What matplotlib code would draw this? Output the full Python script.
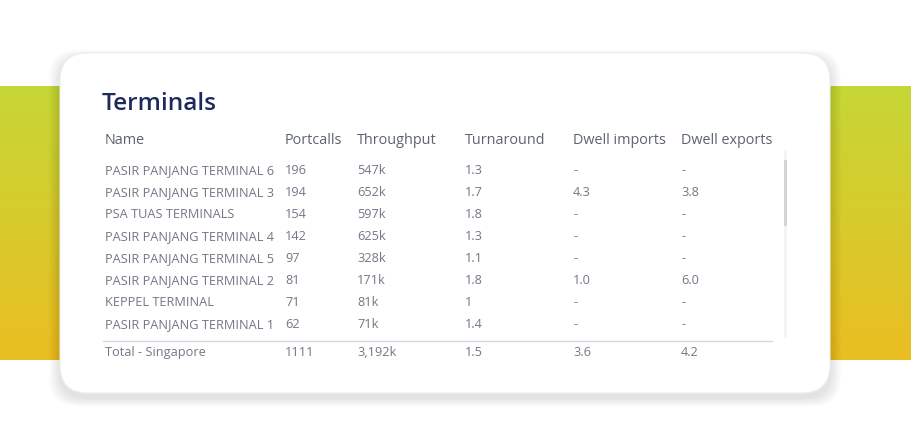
import matplotlib
matplotlib.use("Agg")
import matplotlib.pyplot as plt
import numpy as np
from matplotlib.patches import FancyBboxPatch

title = "Terminals"
columns = ["Name", "Portcalls", "Throughput", "Turnaround", "Dwell imports", "Dwell exports"]
names = ["PASIR PANJANG TERMINAL 6", "PASIR PANJANG TERMINAL 3", "PSA TUAS TERMINALS",
         "PASIR PANJANG TERMINAL 4", "PASIR PANJANG TERMINAL 5", "PASIR PANJANG TERMINAL 2",
         "KEPPEL TERMINAL", "PASIR PANJANG TERMINAL 1"]
portcalls = ["196", "194", "154", "142", "97", "81", "71", "62"]
throughput = ["547k", "652k", "597k", "625k", "328k", "171k", "81k", "71k"]
turnaround = ["1.3", "1.7", "1.8", "1.3", "1.1", "1.8", "1", "1.4"]
dwell_imports = ["-", "4.3", "-", "-", "-", "1.0", "-", "-"]
dwell_exports = ["-", "3.8", "-", "-", "-", "6.0", "-", "-"]
total_row = ["Total - Singapore", "1111", "3,192k", "1.5", "3.6", "4.2"]

W, H = 911, 447
fig = plt.figure(figsize=(W / 100, H / 100), dpi=100)
ax = fig.add_axes([0, 0, 1, 1])
ax.set_xlim(0, W)
ax.set_ylim(H, 0)
ax.axis("off")
fig.patch.set_facecolor("white")

# gradient band
top_c = np.array([0xC6, 0xD7, 0x36]) / 255
bot_c = np.array([0xEA, 0xBE, 0x22]) / 255
t = np.linspace(0, 1, 200)[:, None]
grad = top_c[None, :] * (1 - t) + bot_c[None, :] * t
grad = np.repeat(grad[:, None, :], 2, axis=1)
ax.imshow(grad, extent=[0, W, 360, 86], aspect="auto", zorder=0, interpolation="bilinear")

# card shadow
cx0, cy0, cx1, cy1 = 60, 53, 830, 393
for i in range(14, 0, -1):
    sh = FancyBboxPatch((cx0 + 28 - i * 0.8, cy0 + 28 - i * 0.6 + 5), (cx1 - cx0 - 56) + 1.6 * i,
                        (cy1 - cy0 - 56) + 1.2 * i,
                        boxstyle="round,pad=28,rounding_size=28",
                        fc="black", ec="none", alpha=0.008, zorder=1)
    ax.add_patch(sh)
card = FancyBboxPatch((cx0 + 28, cy0 + 28), cx1 - cx0 - 56, cy1 - cy0 - 56,
                      boxstyle="round,pad=28,rounding_size=28",
                      fc="white", ec="#eeeeee", lw=0.8, zorder=2)
ax.add_patch(card)

font = "Open Sans"
ax.text(102, 110, title, fontsize=17.6, fontweight="semibold", color="#1c2a5c",
        family=font, va="baseline", ha="left", zorder=5)

col_x = [105, 285, 357, 465, 573, 681]
for x, c in zip(col_x, columns):
    ax.text(x, 144, c, fontsize=10.4, color="#5c6272", family=font, va="baseline", zorder=5)

row_cols = [names, portcalls, throughput, turnaround, dwell_imports, dwell_exports]
row_color = "#737887"
for r in range(len(names)):
    y = 174 + 22 * r
    for x, col in zip(col_x, row_cols):
        ax.text(x, y, col[r], fontsize=9.2, color=row_color, family=font,
                va="baseline", zorder=5)

# separator and total
ax.plot([103, 772], [340.5, 340.5], color="#d6d8dc", lw=1, zorder=5)
for x, v in zip(col_x, total_row):
    ax.text(x, 356, v, fontsize=9.2, color=row_color, family=font, va="baseline", zorder=5)

# scrollbar
ax.add_patch(plt.Rectangle((783.5, 150), 3, 188, fc="#f4f4f4", ec="none", zorder=4))
ax.add_patch(plt.Rectangle((784, 160), 2.5, 66, fc="#d4d4d4", ec="none", zorder=5))

fig.savefig("out.png", dpi=100, facecolor="white")
